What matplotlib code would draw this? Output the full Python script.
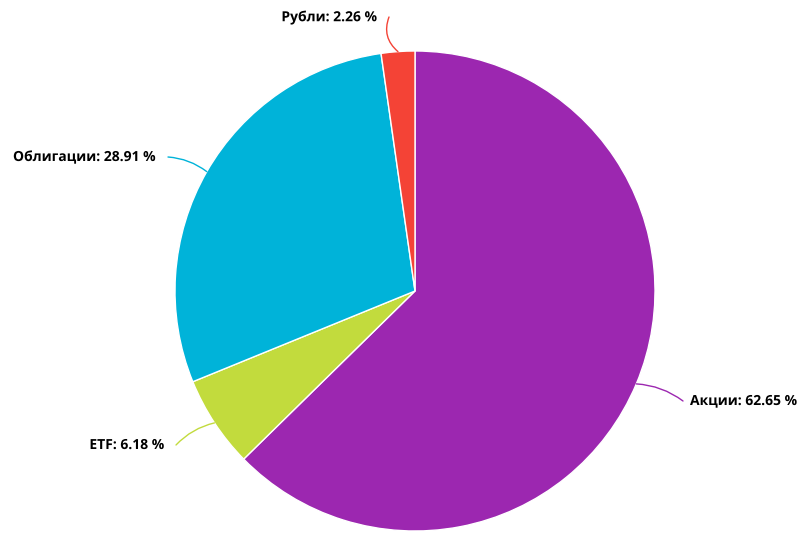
import matplotlib.pyplot as plt
import matplotlib.patheffects as pe
import numpy as np

labels = ['Акции', 'ETF', 'Облигации', 'Рубли']
shares = [62.65, 6.18, 28.91, 2.26]
colors = ['#9C27B0', '#C2DB3D', '#00B3D9', '#F44336']

plt.rcParams['font.family'] = ['Open Sans', 'DejaVu Sans']

W, H = 806, 539
fig = plt.figure(figsize=(W / 100, H / 100), dpi=100)
ax = fig.add_axes([0, 0, 1, 1])
ax.set_aspect('equal')

cx, cy, r = 415, H - 291, 240
wedges, _ = ax.pie(shares, colors=colors, startangle=90, counterclock=False,
                   center=(cx, cy), radius=r, frame=True,
                   wedgeprops=dict(edgecolor='white', linewidth=1))
ax.set_xlim(0, W)
ax.set_ylim(0, H)
ax.axis('off')

# label anchor points (pixels from top-left) and alignment
label_pos = [(690, 401, 'left'), (164, 445, 'right'), (156, 157, 'right'), (377, 17, 'right')]
rads = [0.15, -0.15, -0.15, 0.35]

for w, lab, val, col, (lx, ly, ha), rad in zip(wedges, labels, shares, colors, label_pos, rads):
    ang = np.deg2rad((w.theta1 + w.theta2) / 2)
    ex, ey = cx + r * np.cos(ang), cy + r * np.sin(ang)
    tx = lx + (-7 if ha == 'left' else 12)
    ax.annotate('', xy=(ex, ey), xytext=(tx, H - ly),
                arrowprops=dict(arrowstyle='-', color=col, lw=1,
                                shrinkA=0, shrinkB=0,
                                connectionstyle=f'arc3,rad={rad}'))
    ax.text(lx, H - ly, f'{lab}: {val:.2f} %', ha=ha, va='center',
            fontsize=10, fontweight='bold', color='black',
            path_effects=[pe.withStroke(linewidth=1.5, foreground='white')])

fig.savefig('out.png', dpi=100, facecolor='white')
